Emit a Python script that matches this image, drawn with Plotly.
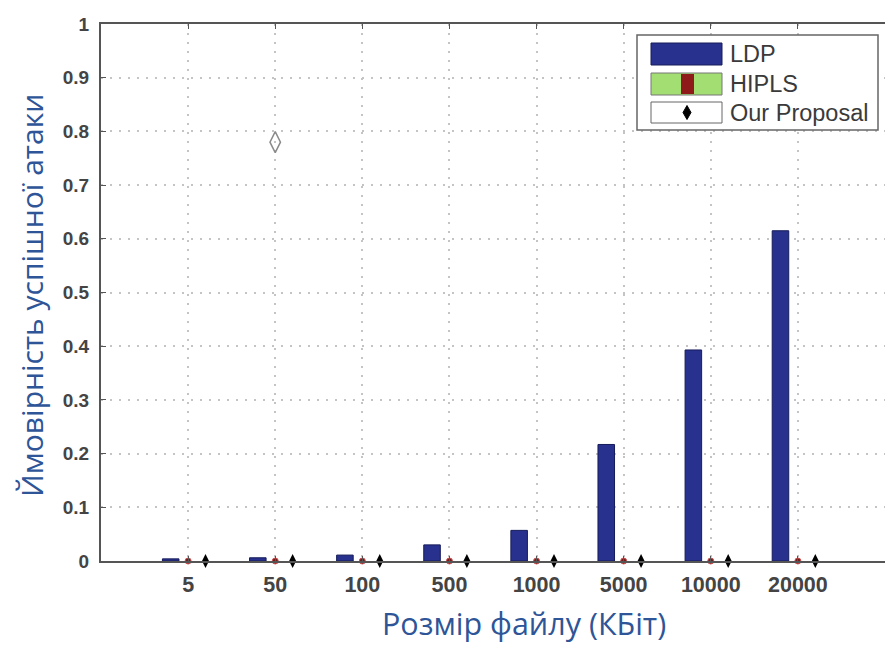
import plotly.graph_objects as go

# ---- data ----
file_sizes = ["5", "50", "100", "500", "1000", "5000", "10000", "20000"]
ldp = [0.004, 0.006, 0.011, 0.030, 0.057, 0.217, 0.393, 0.615]
hipls = [0.0, 0.0, 0.0, 0.0, 0.0, 0.0, 0.0, 0.0]
our_proposal = [0.0, 0.0, 0.0, 0.0, 0.0, 0.0, 0.0, 0.0]
stray_label = ["50"]
stray_value = [0.78]
y_ticks = [0, 0.1, 0.2, 0.3, 0.4, 0.5, 0.6, 0.7, 0.8, 0.9, 1]
legend_names = ["LDP", "HIPLS", "Our Proposal"]

pos = list(range(1, len(file_sizes) + 1))
stray_pos = [pos[file_sizes.index(s)] for s in stray_label]

W, H = 885, 646
L, R, T, B = 101, 885, 24, 561


def px(x):
    return (x - L) / (R - L)


def py(y):
    return (B - y) / (B - T)


NAVY = "#28318d"
TXT = "#3a3a3a"
TICKFONT = "Liberation Sans, Arial"

fig = go.Figure()
fig.add_trace(go.Bar(
    x=pos, y=ldp, name=legend_names[0], offset=-0.295, width=0.19,
    marker=dict(color=NAVY, line=dict(color="#161c5a", width=1)),
    showlegend=False,
))
fig.add_trace(go.Scatter(
    x=[p + 0.0 for p in pos], y=hipls, mode="markers", name=legend_names[1],
    marker=dict(symbol="circle", size=6, color="#6e1b1b",
                line=dict(color="#d05050", width=1)),
    showlegend=False, cliponaxis=False,
))
fig.add_trace(go.Scatter(
    x=[p + 0.2 for p in pos], y=our_proposal, mode="markers", name=legend_names[2],
    marker=dict(symbol="diamond-tall", size=10, color="black"),
    showlegend=False, cliponaxis=False,
))
fig.add_trace(go.Scatter(
    x=stray_pos, y=stray_value, mode="markers",
    marker=dict(symbol="diamond-tall-open", size=15, color="#8a8a8a",
                line=dict(width=1.5)),
    showlegend=False,
))

shapes = []
annotations = []
# custom legend box
shapes.append(dict(type="rect", xref="paper", yref="paper",
                   x0=px(637), x1=px(878), y0=py(130), y1=py(35),
                   fillcolor="white", line=dict(color="#666", width=1.5), layer="above"))
# LDP swatch
shapes.append(dict(type="rect", xref="paper", yref="paper",
                   x0=px(651), x1=px(722), y0=py(65), y1=py(43),
                   fillcolor=NAVY, line=dict(color="#161c5a", width=1), layer="above"))
# HIPLS swatch
shapes.append(dict(type="rect", xref="paper", yref="paper",
                   x0=px(651), x1=px(722), y0=py(95), y1=py(73),
                   fillcolor="#a2de72", line=dict(color="#777", width=1), layer="above"))
shapes.append(dict(type="rect", xref="paper", yref="paper",
                   x0=px(681), x1=px(694), y0=py(94), y1=py(74),
                   fillcolor="#8e1a1a", line=dict(width=0), layer="above"))
# Our proposal swatch
shapes.append(dict(type="rect", xref="paper", yref="paper",
                   x0=px(651), x1=px(722), y0=py(123), y1=py(102),
                   fillcolor="white", line=dict(color="#666", width=1), layer="above"))
cx, cy = 687, 112.5
shapes.append(dict(type="path", xref="paper", yref="paper",
                   path=f"M {px(cx)},{py(cy-7)} L {px(cx+4)},{py(cy)} L {px(cx)},{py(cy+7)} L {px(cx-4)},{py(cy)} Z",
                   fillcolor="black", line=dict(color="black", width=1), layer="above"))
for name, yy in zip(legend_names, [54, 84, 113]):
    annotations.append(dict(xref="paper", yref="paper", x=px(728), y=py(yy),
                            text=name, showarrow=False, xanchor="left", yanchor="middle",
                            font=dict(family=TICKFONT, size=23.5, color=TXT)))

# axis titles
annotations.append(dict(xref="paper", yref="paper", x=px(31), y=py(296),
                        text="Ймовірність успішної атаки", textangle=-90, showarrow=False,
                        xanchor="center", yanchor="middle",
                        font=dict(family="Open Sans", size=30, color="#2e5597")))
annotations.append(dict(xref="paper", yref="paper", x=px(524), y=py(623),
                        text="Розмір файлу (КБіт)", showarrow=False,
                        xanchor="center", yanchor="middle", borderpad=0,
                        font=dict(family="Open Sans", size=30.5, color="#2e5597")))

fig.update_layout(
    width=W, height=H,
    margin=dict(l=L, r=W - R, t=T, b=H - B, pad=0),
    paper_bgcolor="white", plot_bgcolor="white",
    showlegend=False,
    shapes=shapes, annotations=annotations,
    font=dict(family=TICKFONT, size=17, color=TXT),
)
fig.update_xaxes(
    range=[0, 9], tickvals=pos, ticktext=[f"<b>{s}</b>" for s in file_sizes],
    showgrid=True, gridcolor="#c4c4c4", griddash="2px,7px", gridwidth=1.5,
    showline=True, linecolor="#555", linewidth=2, mirror="ticks",
    ticks="inside", ticklen=5, tickcolor="#555",
    tickfont=dict(family=TICKFONT, size=21.5, color="#444"), ticklabelstandoff=3,
    zeroline=False,
)
fig.update_yaxes(
    range=[0, 1], tickvals=y_ticks, ticktext=[f"<b>{v:g}</b>" for v in y_ticks],
    showgrid=True, gridcolor="#c4c4c4", griddash="2px,7px", gridwidth=1.5,
    showline=True, linecolor="#555", linewidth=2, mirror=False,
    ticks="inside", ticklen=5, tickcolor="#555",
    tickfont=dict(family=TICKFONT, size=19, color="#444"), ticklabelstandoff=6,
    zeroline=False,
)

fig.write_html("out.html")
